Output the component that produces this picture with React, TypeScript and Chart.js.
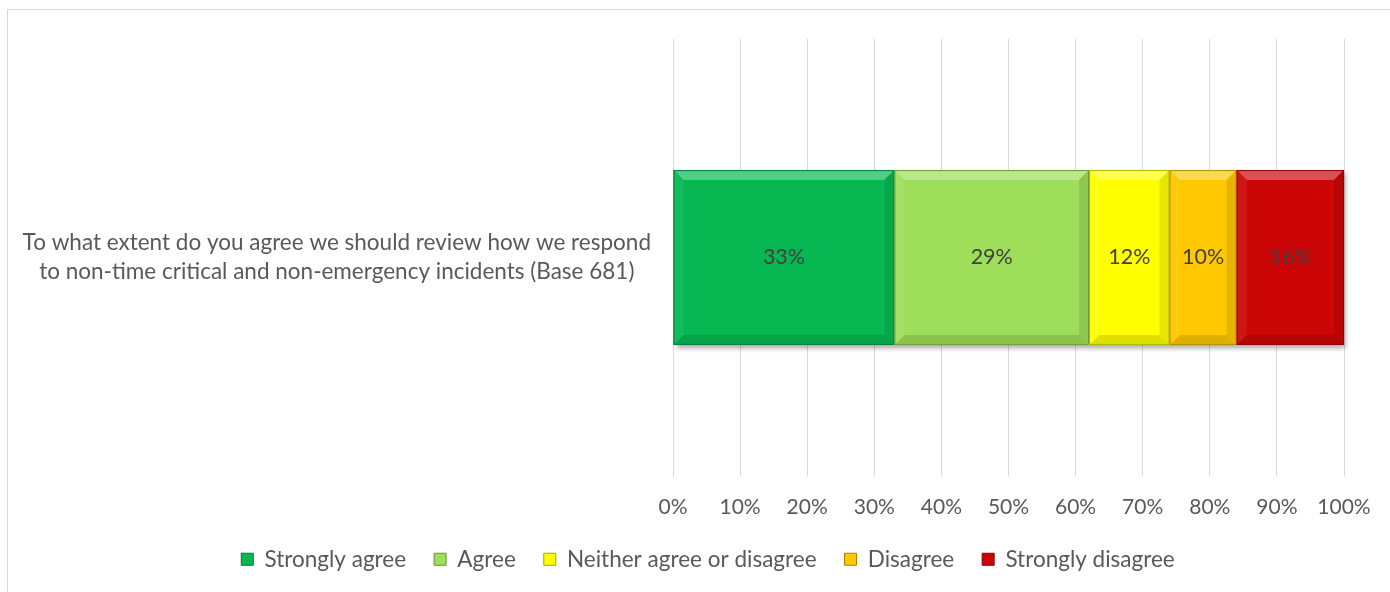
import React, { useEffect, useRef } from "react";
import { Chart, registerables } from "chart.js";

Chart.register(...registerables);

const categories = [
  ["To what extent do you agree we should review how we respond", "to non-time critical and non-emergency incidents (Base 681)"],
];
const seriesNames = ["Strongly agree", "Agree", "Neither agree or disagree", "Disagree", "Strongly disagree"];
const stronglyAgree = [33];
const agree = [29];
const neither = [12];
const disagree = [10];
const stronglyDisagree = [16];
const seriesColors = ["#07B852", "#9FDE5A", "#FFFF00", "#FFC800", "#CC0606"];
const tickValues = [0, 10, 20, 30, 40, 50, 60, 70, 80, 90, 100];

const FONT = "Lato, 'Open Sans', sans-serif";
const LEGEND_HEIGHT = 72;
const LEGEND_LEFT = 72;

function shade(hex: string, amt: number): string {
  const n = parseInt(hex.slice(1), 16);
  let r = (n >> 16) & 255, g = (n >> 8) & 255, b = n & 255;
  const f = (c: number) => amt >= 0 ? Math.round(c + (255 - c) * amt) : Math.round(c * (1 + amt));
  return `rgb(${f(r)},${f(g)},${f(b)})`;
}

const legendSizePlugin = {
  id: "legendSize",
  beforeLayout(chart: any) {
    const lg = chart.legend;
    if (lg && !lg._patched) {
      const orig = lg.fit.bind(lg);
      lg.fit = function () {
        orig();
        this.height = LEGEND_HEIGHT;
      };
      lg._patched = true;
    }
  },
  afterLayout(chart: any) {
    const lg = chart.legend;
    if (lg) {
      lg.left = LEGEND_LEFT;
      lg.width = lg.right - lg.left;
    }
  },
};

const bevelPlugin = {
  id: "bevel",
  beforeDatasetsDraw(chart: any) {
    const ctx = chart.ctx;
    const metas = chart.getSortedVisibleDatasetMetas();
    if (!metas.length) return;
    const first = metas[0].data[0] as any;
    const last = metas[metas.length - 1].data[0] as any;
    const left = Math.min(first.base, first.x);
    const right = Math.max(last.base, last.x);
    const top = first.y - first.height / 2;
    ctx.save();
    ctx.shadowColor = "rgba(0,0,0,0.35)";
    ctx.shadowBlur = 5;
    ctx.shadowOffsetX = 2;
    ctx.shadowOffsetY = 3;
    ctx.fillStyle = "#888";
    ctx.fillRect(left, top, right - left, first.height);
    ctx.restore();
  },
  afterDatasetsDraw(chart: any) {
    const ctx = chart.ctx;
    const metas = chart.getSortedVisibleDatasetMetas();
    metas.forEach((meta: any) => {
      const color = seriesColors[meta.index];
      meta.data.forEach((el: any, i: number) => {
        const l = Math.min(el.base, el.x);
        const r = Math.max(el.base, el.x);
        const t = el.y - el.height / 2;
        const btm = el.y + el.height / 2;
        const b = 10;
        ctx.save();
        const poly = (pts: number[][], fill: string) => {
          ctx.beginPath();
          ctx.moveTo(pts[0][0], pts[0][1]);
          for (let k = 1; k < pts.length; k++) ctx.lineTo(pts[k][0], pts[k][1]);
          ctx.closePath();
          ctx.fillStyle = fill;
          ctx.fill();
        };
        poly([[l, t], [r, t], [r - b, t + b], [l + b, t + b]], shade(color, 0.3));
        poly([[l, btm], [r, btm], [r - b, btm - b], [l + b, btm - b]], shade(color, -0.12));
        poly([[l, t], [l + b, t + b], [l + b, btm - b], [l, btm]], shade(color, 0.06));
        poly([[r, t], [r - b, t + b], [r - b, btm - b], [r, btm]], shade(color, -0.1));
        ctx.strokeStyle = shade(color, -0.3);
        ctx.lineWidth = 1;
        ctx.strokeRect(l + 0.5, t + 0.5, r - l - 1, btm - t - 1);
        const v = chart.data.datasets[meta.index].data[i];
        ctx.fillStyle = "#404040";
        ctx.font = `21.5px ${FONT}`;
        ctx.textAlign = "center";
        ctx.textBaseline = "middle";
        ctx.fillText(`${v}%`, (l + r) / 2, el.y);
        ctx.restore();
      });
    });
  },
};

export default function App() {
  const ref = useRef<HTMLCanvasElement | null>(null);
  useEffect(() => {
    if (!ref.current) return;
    const values = [stronglyAgree, agree, neither, disagree, stronglyDisagree];
    const chart = new Chart(ref.current, {
      type: "bar",
      data: {
        labels: categories as any,
        datasets: seriesNames.map((name, i) => ({
          label: name,
          data: values[i],
          backgroundColor: seriesColors[i],
          borderWidth: 0,
          categoryPercentage: 1,
          barPercentage: 0.4,
        })),
      },
      options: {
        indexAxis: "y",
        animation: false,
        responsive: false,
        maintainAspectRatio: false,
        layout: { padding: { top: 39, right: 46, left: 0, bottom: 0 } },
        scales: {
          x: {
            stacked: true,
            min: 0,
            max: 100,
            afterBuildTicks: (scale: any) => {
              scale.ticks = tickValues.map((v) => ({ value: v }));
            },
            afterFit: (scale: any) => {
              scale.height = 44;
            },
            grid: { color: "#D9D9D9", lineWidth: 1, drawTicks: false },
            border: { display: false },
            ticks: {
              color: "#595959",
              font: { size: 21, family: FONT },
              padding: 19,
              callback: (v: any) => `${v}%`,
              maxRotation: 0,
              autoSkip: false,
            },
          },
          y: {
            stacked: true,
            grid: { display: false, drawTicks: false },
            border: { display: true, color: "#D9D9D9" },
            afterFit: (scale: any) => {
              scale.width = 673;
              scale.paddingTop = 0;
              scale.paddingBottom = 0;
            },
            ticks: {
              color: "#595959",
              font: { size: 22.5, family: FONT, lineHeight: 1.3 },
              padding: 22,
              crossAlign: "center",
            },
          },
        },
        plugins: {
          legend: {
            position: "bottom",
            labels: {
              color: "#595959",
              font: { size: 22.5, family: FONT },
              boxWidth: 12,
              boxHeight: 12,
              padding: 28,
              generateLabels: () =>
                seriesNames.map((n, i) => ({
                  text: n,
                  fillStyle: seriesColors[i],
                  strokeStyle: shade(seriesColors[i], -0.35),
                  lineWidth: 1,
                  hidden: false,
                  datasetIndex: i,
                  fontColor: "#595959",
                })),
            },
          },
          tooltip: { enabled: false },
        },
      },
      plugins: [legendSizePlugin, bevelPlugin],
    });
    return () => chart.destroy();
  }, []);
  return (
    <div style={{ position: "fixed", left: 0, top: 0, width: 1390, height: 592, background: "#fff", overflow: "hidden" }}>
      <div style={{ position: "absolute", left: 7, top: 9, width: 1420, height: 620, border: "1px solid #D9D9D9", boxSizing: "border-box" }} />
      <canvas ref={ref} width={1390} height={592} style={{ position: "absolute", left: 0, top: 0 }} />
    </div>
  );
}
